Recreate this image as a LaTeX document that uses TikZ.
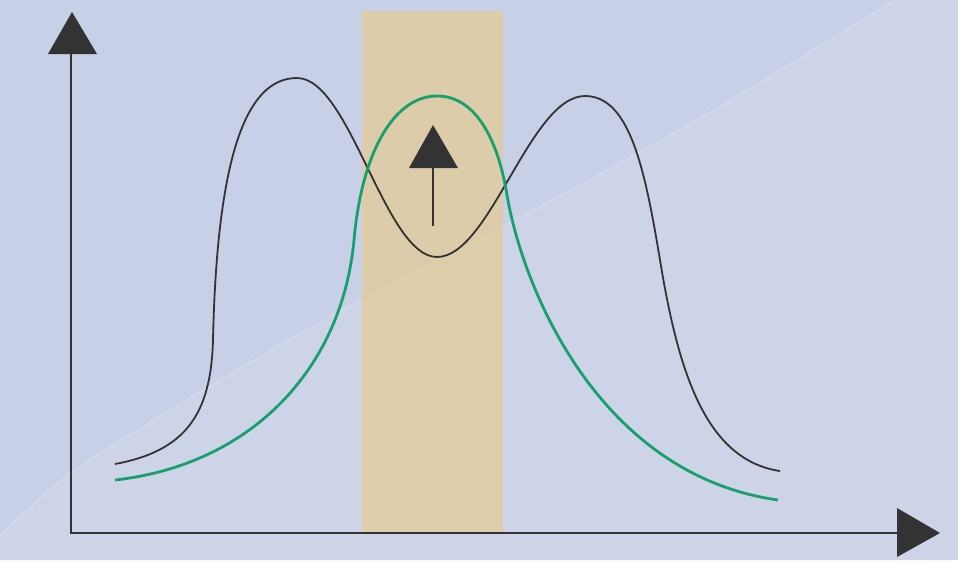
\documentclass[tikz,border=0pt]{standalone}
\definecolor{bgA}{HTML}{C8D0E8}
\definecolor{bgB}{HTML}{CED4E8}
\definecolor{tan}{HTML}{E0CC9E}
\definecolor{ink}{HTML}{333333}
\definecolor{grn}{HTML}{17A06E}
\tikzset{
  axisline/.style={draw=ink, line width=2pt},
  headtri/.style={fill=ink, draw=none},
  blackcurve/.style={draw=ink, line width=1.8pt},
  greencurve/.style={draw=grn, line width=2.8pt},
}
\begin{document}
\begin{tikzpicture}[x=1pt,y=-1pt]
\useasboundingbox (0,0) rectangle (958,560);
% background
\fill[bgA] (0,0) rectangle (958,560);
\fill[bgB] plot[smooth] coordinates {(0,535) (72,472) (187,400) (330,317) (530,212) (700,118) (895,0)} -- (958,0) -- (958,560) -- (0,560) -- cycle;
\draw[white, opacity=0.35, line width=0.6pt] plot[smooth] coordinates {(0,535) (72,472) (187,400) (330,317) (530,212) (700,118) (895,0)};
% highlighted band
\fill[tan, opacity=0.85] (362,11) rectangle (503,533);
% curves
\draw[blackcurve] (115,464) .. controls (185,451) and (211,415) .. (213,340)
  .. controls (217,160) and (245,78) .. (297,78)
  .. controls (350,78) and (385,257) .. (437,257)
  .. controls (490,257) and (530,96) .. (585,96)
  .. controls (630,96) and (645,170) .. (660,260)
  .. controls (678,370) and (705,460) .. (780,471);
\draw[greencurve] (115,480) .. controls (250,465) and (342,370) .. (354,240)
  .. controls (362,150) and (395,96) .. (437,96)
  .. controls (478,96) and (499,145) .. (507,195)
  .. controls (523,290) and (600,475) .. (778,500);
% small arrow
\coordinate (sa0) at (433,226);
\coordinate (sa1) at (433,168);
\draw[draw=ink, line width=1.8pt] (sa0) -- (sa1);
\fill[headtri] (409,168) -- (458,168) -- (433,125) -- cycle;
% axes
\coordinate (O) at (71,533);
\coordinate (ytop) at (71,54);
\coordinate (xend) at (897,533);
\draw[axisline] (ytop) -- (O) -- (xend);
\fill[headtri] (48,54) -- (97,54) -- (72,12) -- cycle;
\fill[headtri] (897,508) -- (897,557) -- (940,533) -- cycle;
\end{tikzpicture}
\end{document}
